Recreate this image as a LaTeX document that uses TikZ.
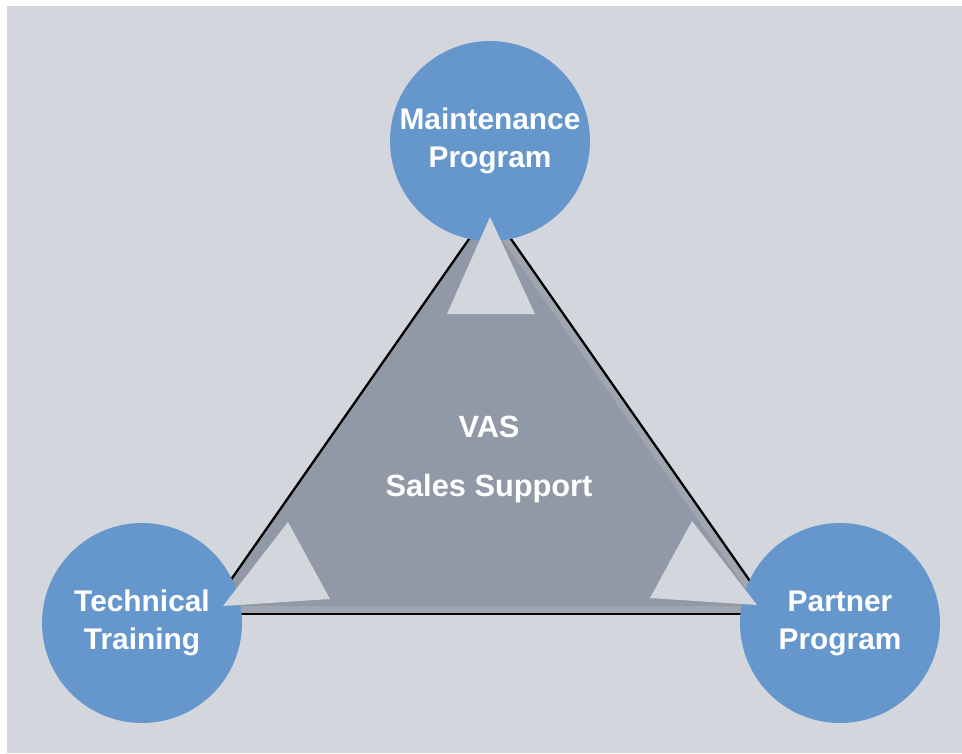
\documentclass[tikz,border=0pt]{standalone}
\usepackage{fontspec}
\setmainfont{Liberation Sans}
\usepackage{tikz}
\definecolor{bg}{HTML}{D3D6DC}
\definecolor{tri}{HTML}{9299A6}
\definecolor{band}{HTML}{A0A6B0}
\definecolor{ballblue}{HTML}{6596CC}
\tikzstyle{ball}=[circle, fill=ballblue, minimum size=4cm, inner sep=0pt, text=white, align=center, font=\fontsize{17}{21.5}\selectfont\bfseries]
\tikzstyle{lbl}=[anchor=base, text=white, font=\fontsize{17.5}{21}\selectfont\bfseries]
\tikzstyle{gap}=[fill=bg]

\begin{document}
\begin{tikzpicture}[x=0.02cm, y=-0.02cm]
    \fill[white] (0,0) rectangle (962,753);
    \fill[bg] (7,6) rectangle (962,753);
    \coordinate (T) at (490,209);
    \coordinate (L) at (207,614);
    \coordinate (R) at (773,614);
    \fill[band] (T) -- (L) -- (R) -- cycle;
    \fill[tri] (485.5,216) -- (213,606) -- (758,606) -- cycle;
    \foreach \to/\from in {T/L, T/R, L/R}
      \draw[line width=1.3pt] (\to) -- (\from);

    \node[ball] (M) at (490,141) {Maintenance\\Program};
    \node[ball] (TT) at (142,623) {Technical\\Training};
    \node[ball] (P) at (840,623) {Partner\\Program};

    \fill[gap] (490,217) -- (447,314) -- (535,314) -- cycle;
    \fill[gap] (288,522) -- (223,606) -- (330,599) -- cycle;
    \fill[gap] (692,521) -- (650,598) -- (757,605) -- cycle;

    \node[lbl] (vas) at (489,437) {VAS};
    \node[lbl] (ss) at (489,496) {Sales Support};
    \end{tikzpicture}
\end{document}
